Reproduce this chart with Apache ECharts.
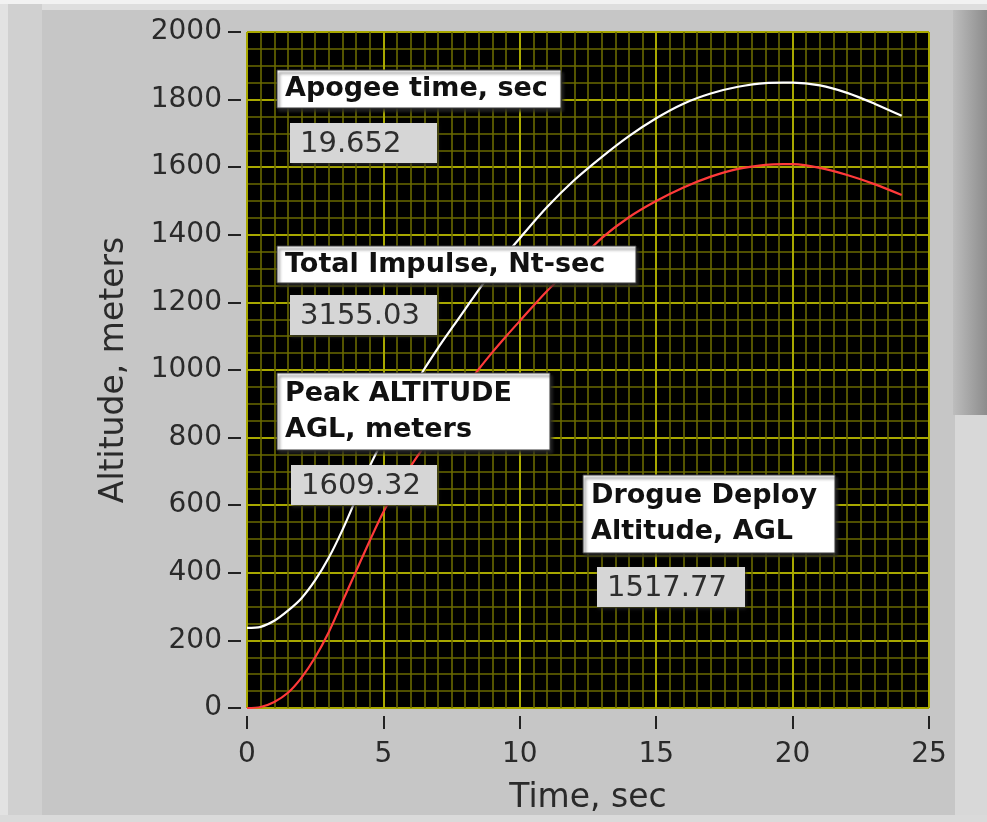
<!DOCTYPE html>
<html>
<head>
<meta charset="utf-8">
<script src="https://cdn.jsdelivr.net/npm/echarts@6/dist/echarts.min.js"></script>
<style>
html,body{margin:0;padding:0;background:#c6c6c6;}
#chart{width:987px;height:822px;}
</style>
</head>
<body>
<div id="chart"></div>
<script>
// ---- data ----
const timeSec = [0,0.5,1,1.5,2,2.5,3,3.5,4,4.5,5,5.5,6,6.5,7,7.5,8,8.5,9,9.5,10,11,12,13,14,15,16,17,18,19,19.65,20,21,22,23,24];
const altitudeAGL = [0,3,18,45,90,150,225,315,405,495,580,650,715,775,833,890,948,1003,1053,1100,1145,1234,1310,1390,1452,1500,1540,1572,1595,1607,1609.3,1609,1598,1577,1550,1517.8];
const altitudeWhite = [237,240,258,288,325,378,445,527,620,715,795,865,935,1003,1065,1123,1180,1238,1293,1343,1390,1482,1562,1630,1692,1745,1788,1818,1838,1849,1850,1850,1842,1820,1788,1752];
const xTicks = [0,5,10,15,20,25];
const yTicks = [0,200,400,600,800,1000,1200,1400,1600,1800,2000];
const indicatorTitles = ['Apogee time, sec','Total Impulse, Nt-sec','Peak ALTITUDE\nAGL, meters','Drogue Deploy\nAltitude, AGL'];
const indicatorValues = ['19.652','3155.03','1609.32','1517.77'];

const FONT = 'DejaVu Sans';
const toPairs = (xs, ys) => xs.map((x, i) => [x, ys[i]]);

// indicator box layout (pixels)
const boxes = [
  {tx:277, ty:70,  tw:284, th:38, vx:290, vy:123, vw:147, vh:40},
  {tx:277, ty:246, tw:359, th:37, vx:290, vy:295, vw:147, vh:40},
  {tx:277, ty:373, tw:273, th:77, vx:291, vy:465, vw:146, vh:40},
  {tx:583, ty:475, tw:252, th:78, vx:597, vy:567, vw:148, vh:40}
];

const graphics = [
  {type:'rect', z:-10, silent:true, shape:{x:0,y:0,width:987,height:822}, style:{fill:'#c6c6c6'}},
  {type:'rect', z:-9, silent:true, shape:{x:0,y:0,width:987,height:10}, style:{fill:'#dedede'}},
  {type:'rect', z:-9, silent:true, shape:{x:0,y:0,width:987,height:4}, style:{fill:'#f2f2f2'}},
  {type:'rect', z:-9, silent:true, shape:{x:0,y:4,width:42,height:818}, style:{fill:'#d0d0d0'}},
  {type:'rect', z:-9, silent:true, shape:{x:0,y:4,width:8,height:818}, style:{fill:'#e2e2e2'}},
  {type:'rect', z:-9, silent:true, shape:{x:953,y:10,width:34,height:405},
    style:{fill:{type:'linear',x:0,y:0,x2:1,y2:0,colorStops:[{offset:0,color:'#bdbdbd'},{offset:1,color:'#8c8c8c'}]}}},
  {type:'rect', z:-9, silent:true, shape:{x:955,y:415,width:32,height:407}, style:{fill:'#d8d8d8'}},
  {type:'rect', z:-9, silent:true, shape:{x:0,y:815,width:987,height:7}, style:{fill:'#dadada'}}
];

boxes.forEach((b, i) => {
  graphics.push({type:'rect', z:100, silent:true, shape:{x:b.tx,y:b.ty,width:b.tw,height:b.th},
    style:{fill:'#ffffff', stroke:'#3a3a3a', lineWidth:1, shadowColor:'rgba(40,40,40,0.9)', shadowOffsetX:2, shadowOffsetY:3, shadowBlur:3}});
  graphics.push({type:'text', z:101, silent:true, x:b.tx+8, y:b.ty+b.th/2,
    style:{text:indicatorTitles[i], font:'bold 27px "'+FONT+'"', fill:'#111111', verticalAlign:'middle', lineHeight:36}});
  graphics.push({type:'rect', z:100, silent:true, shape:{x:b.vx,y:b.vy,width:b.vw,height:b.vh},
    style:{fill:'#d6d6d6', shadowColor:'rgba(40,40,40,0.8)', shadowOffsetX:1, shadowOffsetY:2, shadowBlur:3}});
  graphics.push({type:'text', z:101, silent:true, x:b.vx+10, y:b.vy+b.vh/2+1,
    style:{text:indicatorValues[i], font:'29px "'+FONT+'"', fill:'#2e2e2e', verticalAlign:'middle'}});
});

const chart = echarts.init(document.getElementById('chart'), null, {renderer:'canvas'});
chart.setOption({
  animation:false,
  backgroundColor:'#c6c6c6',
  grid:{left:247, right:58, top:32, bottom:114, show:true, backgroundColor:'#000000', borderWidth:0},
  xAxis:{
    type:'value', min:xTicks[0], max:xTicks[xTicks.length-1], interval:5,
    offset:8,
    name:'Time, sec', nameLocation:'middle', nameGap:66,
    nameTextStyle:{fontFamily:FONT, fontSize:33, color:'#2a2a2a'},
    axisLine:{show:false, onZero:false},
    axisTick:{show:true, length:13, lineStyle:{color:'#222', width:2}},
    axisLabel:{fontFamily:FONT, fontSize:28, color:'#2a2a2a', margin:25, formatter:(v)=>String(v)},
    splitLine:{show:true, lineStyle:{color:'#a8a800', width:2}},
    minorTick:{show:false, splitNumber:10},
    minorSplitLine:{show:true, lineStyle:{color:'#6a6a00', width:1.6}}
  },
  yAxis:{
    type:'value', min:yTicks[0], max:yTicks[yTicks.length-1], interval:200,
    offset:6,
    name:'Altitude, meters', nameLocation:'middle', nameGap:110,
    nameTextStyle:{fontFamily:FONT, fontSize:33, color:'#2a2a2a'},
    axisLine:{show:false, onZero:false},
    axisTick:{show:true, length:13, lineStyle:{color:'#222', width:2}},
    axisLabel:{fontFamily:FONT, fontSize:28, color:'#2a2a2a', margin:19, formatter:(v)=>String(v)},
    splitLine:{show:true, lineStyle:{color:'#a8a800', width:2}},
    minorTick:{show:false, splitNumber:4},
    minorSplitLine:{show:true, lineStyle:{color:'#6a6a00', width:1.6}}
  },
  series:[
    {type:'line', name:'Altitude (white)', data:toPairs(timeSec, altitudeWhite), smooth:0.3, showSymbol:false,
      lineStyle:{color:'#ffffff', width:2.2}, z:5},
    {type:'line', name:'Altitude AGL', data:toPairs(timeSec, altitudeAGL), smooth:0.3, showSymbol:false,
      lineStyle:{color:'#ff3a3a', width:2.2}, z:5}
  ],
  graphic:graphics
});
</script>
</body>
</html>
